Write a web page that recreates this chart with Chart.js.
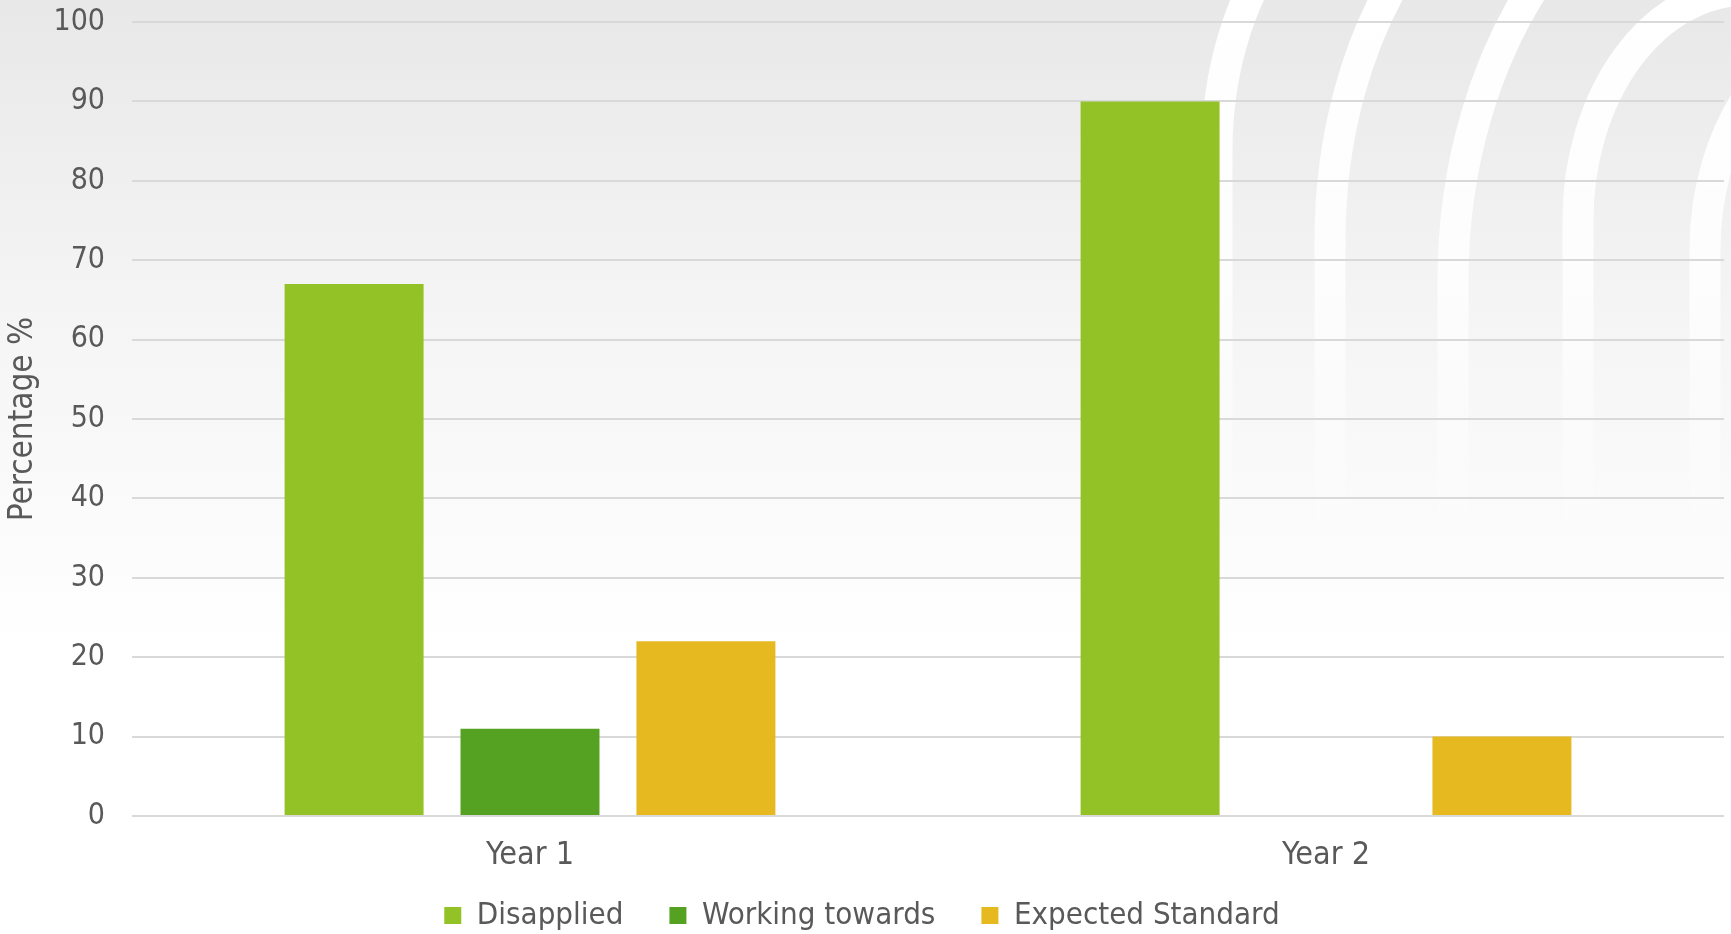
<!DOCTYPE html>
<html>
<head>
<meta charset="utf-8">
<script src="https://cdn.jsdelivr.net/npm/chart.js@4"></script>
<style>
  html, body { margin: 0; padding: 0; background: #ffffff; }
  #wrap { width: 1731px; height: 934px; position: relative; }
</style>
</head>
<body>
<div id="wrap"><canvas id="chart"></canvas></div>
<script>
const categories = ["Year 1", "Year 2"];
const seriesNames = ["Disapplied", "Working towards", "Expected Standard"];
const disapplied = [67, 90];
const workingTowards = [11, 0];
const expectedStandard = [22, 10];
const yTicks = [0, 10, 20, 30, 40, 50, 60, 70, 80, 90, 100];

const colors = ["#92c226", "#55a122", "#e6b920"];
const textColor = "#595959";
const fontFamily = '"DejaVu Sans Condensed", "DejaVu Sans", sans-serif';

// grey gradient + white arcs behind the plot
const backdrop = {
  id: "backdrop",
  beforeDraw(chart) {
    const { ctx, width, height } = chart;
    ctx.save();
    const g = ctx.createLinearGradient(0, 0, 0, 650);
    g.addColorStop(0, "#e8e8e8");
    g.addColorStop(0.45, "#f4f4f4");
    g.addColorStop(1, "#ffffff");
    ctx.fillStyle = g;
    ctx.fillRect(0, 0, width, height);

    const arcs = [
      { xv: 1217, yv: 150, a: 224, b: 300 },
      { xv: 1330, yv: 240, a: 275, b: 400 },
      { xv: 1453, yv: 280, a: 336, b: 450 },
      { xv: 1578, yv: 220, a: 170, b: 230 },
      { xv: 1705, yv: 250, a: 170, b: 230 },
    ];
    const fade = ctx.createLinearGradient(0, 0, 0, 560);
    fade.addColorStop(0, "rgba(255,255,255,1)");
    fade.addColorStop(0.5, "rgba(255,255,255,0.85)");
    fade.addColorStop(1, "rgba(255,255,255,0)");
    ctx.strokeStyle = fade;
    ctx.lineWidth = 31;
    for (const s of arcs) {
      ctx.beginPath();
      ctx.moveTo(s.xv, 700);
      ctx.lineTo(s.xv, s.yv);
      ctx.ellipse(s.xv + s.a, s.yv, s.a, s.b, 0, Math.PI, Math.PI * 1.5);
      ctx.stroke();
    }
    ctx.restore();
  }
};

new Chart(document.getElementById("chart"), {
  type: "bar",
  data: {
    labels: categories,
    datasets: [
      { label: seriesNames[0], data: disapplied, backgroundColor: colors[0] },
      { label: seriesNames[1], data: workingTowards, backgroundColor: colors[1] },
      { label: seriesNames[2], data: expectedStandard, backgroundColor: colors[2] },
    ],
  },
  options: {
    responsive: true,
    maintainAspectRatio: false,
    animation: false,
    devicePixelRatio: 1,
    datasets: { bar: { categoryPercentage: 0.663, barPercentage: 0.79 } },
    layout: { padding: { top: 22, right: 7, left: 0, bottom: -7 } },
    scales: {
      x: {
        grid: { display: false, drawTicks: false },
        border: { display: false },
        // mirrored so the labels are not clipped to the short axis box
        ticks: { color: textColor, font: { family: fontFamily, size: 32 }, mirror: true, padding: -59 },
        afterFit: (axis) => { axis.height = 38; axis.paddingLeft = 0; axis.paddingRight = 0; },
      },
      y: {
        min: 0,
        max: 100,
        afterBuildTicks: (axis) => { axis.ticks = yTicks.map(v => ({ value: v })); },
        afterFit: (axis) => { axis.width = 132; axis.paddingTop = 0; axis.paddingBottom = 0; },
        grid: { color: "#d9d9d9", lineWidth: 2, drawTicks: false },
        border: { display: false },
        ticks: { color: textColor, font: { family: fontFamily, size: 30 }, padding: 27 },
        title: {
          display: true,
          text: "Percentage %",
          color: textColor,
          font: { family: fontFamily, size: 33 },
          padding: { top: 4, bottom: 0 },
        },
      },
    },
    plugins: {
      legend: {
        position: "bottom",
        labels: {
          color: textColor,
          font: { family: fontFamily, size: 31 },
          boxWidth: 17,
          boxHeight: 17,
          padding: 46,
        },
      },
      tooltip: { enabled: false },
    },
  },
  plugins: [backdrop],
});
</script>
</body>
</html>
